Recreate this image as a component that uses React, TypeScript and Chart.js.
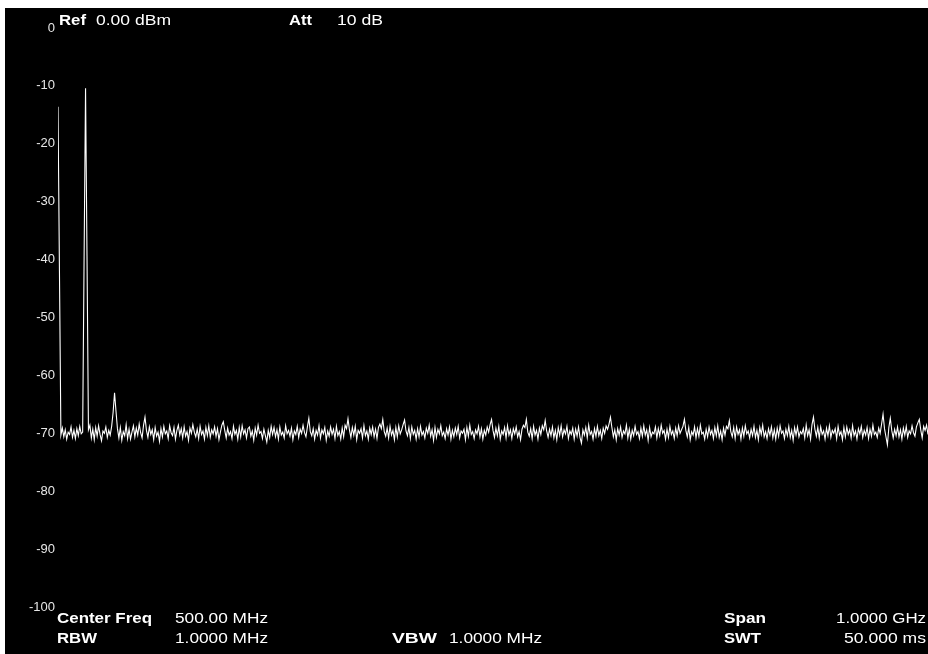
import React, { useEffect, useRef } from "react";
import { Chart, registerables } from "chart.js";

Chart.register(...registerables);

// Sweep settings
const START_MHZ = 0;
const STOP_MHZ = 1000;
const REF_LEVEL = 0;
const BOTTOM_LEVEL = -100;
const DB_PER_DIV = 10;

// Trace levels (dBm), 601 sweep points from 0 to 1000 MHz
const traceLevels: number[] = [
  -13.6, -42.0, -70.3, -69.1, -70.6, -69.4, -71.0, -69.8, -70.2, -68.9, -70.7, -69.5, -70.9, -69.2, -70.4, -68.8, -70.1, -69.8, -39.5, -10.4,
  -39.3, -69.4, -68.6, -70.8, -69.3, -71.1, -69.0, -70.5, -68.7, -70.2, -71.3, -69.6, -70.0, -68.9, -70.7, -69.5, -70.3, -68.8, -66.4, -63.0,
  -66.2, -69.2, -70.8, -69.0, -71.2, -69.7, -70.4, -68.5, -70.9, -69.3, -71.0, -69.8, -68.7, -70.6, -69.1, -70.3, -68.4, -69.9, -70.8, -68.6,
  -67.2, -69.5, -70.7, -68.9, -70.2, -69.4, -71.1, -69.0, -70.5, -69.8, -71.4, -69.2, -70.6, -68.8, -70.1, -69.6, -70.9, -68.7, -69.9, -70.4,
  -69.0, -71.0, -69.5, -68.6, -70.3, -69.2, -70.8, -68.9, -70.5, -69.7, -71.2, -69.1, -70.0, -68.5, -69.8, -70.6, -69.3, -70.9, -68.8, -70.2,
  -69.6, -71.0, -69.0, -70.4, -68.7, -70.7, -69.4, -70.1, -68.9, -70.5, -69.2, -71.1, -69.8, -68.6, -68.0, -69.5, -70.8, -69.1, -70.3, -69.7,
  -70.9, -68.8, -70.2, -69.5, -71.0, -69.0, -70.6, -68.7, -70.1, -69.4, -70.8, -69.2, -68.9, -70.5, -69.6, -71.2, -69.1, -70.3, -68.6, -70.0,
  -69.7, -70.9, -69.3, -70.4, -71.5, -69.5, -70.7, -68.8, -70.2, -69.0, -70.6, -69.4, -71.0, -68.9, -70.3, -69.8, -70.8, -68.7, -70.1, -69.5,
  -70.5, -69.1, -71.1, -69.6, -70.2, -68.8, -70.7, -69.3, -70.0, -68.6, -69.9, -70.6, -68.9, -67.4, -69.7, -70.4, -69.2, -71.0, -69.5, -70.3,
  -68.7, -70.8, -69.4, -70.1, -69.0, -71.2, -69.6, -70.5, -68.9, -70.2, -69.3, -70.9, -68.8, -70.4, -69.7, -71.0, -69.1, -70.6, -68.6, -69.2,
  -67.5, -69.4, -70.7, -69.0, -70.3, -68.8, -71.1, -69.5, -70.0, -69.2, -70.8, -68.7, -70.4, -69.6, -71.0, -69.1, -70.2, -68.9, -70.6, -69.3,
  -70.9, -69.0, -68.4, -69.2, -67.6, -69.7, -70.5, -69.1, -70.8, -68.8, -70.3, -69.5, -71.1, -69.0, -70.6, -68.7, -70.1, -69.4, -68.5, -67.7,
  -69.6, -70.4, -69.0, -70.9, -68.9, -70.2, -69.5, -71.0, -69.2, -70.6, -68.8, -70.3, -69.7, -70.8, -69.1, -70.0, -68.6, -70.5, -69.4, -71.2,
  -69.0, -70.7, -69.3, -70.1, -68.7, -70.4, -69.8, -70.9, -69.2, -70.3, -68.9, -71.0, -69.5, -70.6, -69.1, -70.2, -68.8, -70.8, -69.6, -70.0,
  -69.3, -71.1, -69.0, -70.5, -68.6, -70.2, -69.7, -70.9, -69.4, -70.1, -68.8, -70.6, -69.2, -71.0, -69.5, -70.3, -68.9, -69.8, -68.5, -67.6,
  -69.5, -70.7, -69.1, -70.4, -68.8, -71.0, -69.6, -70.2, -69.0, -70.8, -68.7, -70.3, -69.4, -70.9, -69.2, -70.1, -68.9, -70.6, -69.7, -71.1,
  -69.3, -68.6, -69.0, -67.6, -69.8, -70.5, -69.2, -70.9, -68.8, -70.3, -69.5, -71.0, -69.1, -70.2, -68.7, -69.4, -67.8, -69.6, -70.7, -69.3,
  -70.4, -68.9, -70.8, -69.5, -71.1, -69.0, -70.3, -68.7, -70.6, -69.4, -70.1, -68.8, -70.9, -69.6, -70.2, -69.1, -71.0, -69.3, -70.5, -68.9,
  -70.7, -71.7, -69.4, -70.3, -69.0, -70.8, -68.6, -70.2, -69.7, -71.0, -69.2, -70.5, -68.8, -70.4, -69.5, -70.9, -69.1, -70.0, -68.7, -69.3,
  -68.4, -67.2, -69.0, -70.6, -69.4, -71.1, -69.2, -70.3, -68.9, -70.7, -69.6, -70.1, -68.6, -70.8, -69.3, -71.0, -69.5, -70.4, -68.8, -70.2,
  -69.7, -70.9, -69.1, -70.5, -68.7, -70.3, -69.4, -71.2, -69.0, -70.6, -69.8, -70.1, -68.9, -70.8, -69.2, -70.4, -68.6, -70.0, -69.5, -71.0,
  -69.3, -70.7, -68.8, -70.2, -69.6, -70.9, -69.1, -70.4, -68.7, -70.0, -69.4, -68.8, -67.6, -69.5, -70.6, -69.0, -71.1, -69.7, -70.3, -68.9,
  -70.8, -69.2, -70.5, -68.6, -70.1, -69.8, -71.0, -69.3, -70.6, -68.9, -70.2, -69.5, -70.9, -69.0, -70.4, -68.7, -70.7, -69.6, -71.1, -69.1,
  -70.3, -68.8, -69.2, -67.8, -69.7, -70.6, -69.0, -70.9, -68.9, -70.2, -69.4, -71.0, -69.1, -70.5, -68.7, -70.1, -69.6, -70.8, -69.3, -70.4,
  -68.8, -70.7, -69.5, -71.1, -69.0, -70.2, -68.6, -70.6, -69.7, -70.9, -69.2, -70.3, -68.9, -70.8, -69.4, -71.0, -69.1, -70.5, -68.7, -70.0,
  -69.6, -70.9, -69.3, -70.4, -68.8, -70.7, -69.5, -71.2, -69.0, -70.3, -68.9, -70.6, -69.7, -70.1, -69.2, -70.8, -68.6, -70.4, -69.4, -71.0,
  -68.5, -67.2, -69.3, -70.5, -69.0, -70.8, -68.9, -70.2, -69.6, -71.0, -69.1, -70.4, -68.7, -70.7, -69.5, -70.0, -69.2, -70.9, -68.8, -70.3,
  -69.7, -71.1, -69.0, -70.6, -68.9, -70.2, -69.4, -70.8, -68.7, -70.4, -69.6, -71.0, -69.2, -70.1, -68.8, -70.7, -69.5, -70.3, -69.0, -70.9,
  -69.3, -70.5, -68.6, -70.2, -69.8, -70.7, -69.1, -70.0, -68.4, -66.7, -69.2, -70.6, -72.0, -69.0, -67.4, -69.5, -70.8, -69.3, -70.4, -68.9,
  -70.6, -69.4, -71.0, -69.1, -70.3, -68.8, -70.7, -69.6, -70.1, -68.7, -69.9, -70.5, -68.9, -68.2, -67.6, -69.4, -70.8, -68.8, -69.5, -68.6,
  -70.2,
];

// Annotation texts
const headerTexts = ["Ref", "0.00 dBm", "Att", "10 dB"];
const footerRow1 = ["Center Freq", "500.00 MHz", "Span", "1.0000 GHz"];
const footerRow2 = ["RBW", "1.0000 MHz", "VBW", "1.0000 MHz", "SWT", "50.000 ms"];

// Layout for annotation texts (canvas is offset by 5,8 in the page)
const OFF_X = 5;
const OFF_Y = 8;
type TextSpot = { text: string; x: number; w: number; base: number; bold: boolean };
const textSpots: TextSpot[] = [
  { text: headerTexts[0], x: 59, w: 27, base: 25, bold: true },
  { text: headerTexts[1], x: 96, w: 75, base: 25, bold: false },
  { text: headerTexts[2], x: 289, w: 23, base: 25, bold: true },
  { text: headerTexts[3], x: 337, w: 46, base: 25, bold: false },
  { text: footerRow1[0], x: 57, w: 95, base: 623, bold: true },
  { text: footerRow1[1], x: 175, w: 93, base: 623, bold: false },
  { text: footerRow1[2], x: 724, w: 42, base: 623, bold: true },
  { text: footerRow1[3], x: 836, w: 90, base: 623, bold: false },
  { text: footerRow2[0], x: 57, w: 40, base: 643, bold: true },
  { text: footerRow2[1], x: 175, w: 93, base: 643, bold: false },
  { text: footerRow2[2], x: 392, w: 45, base: 643, bold: true },
  { text: footerRow2[3], x: 449, w: 93, base: 643, bold: false },
  { text: footerRow2[4], x: 724, w: 37, base: 643, bold: true },
  { text: footerRow2[5], x: 844, w: 82, base: 643, bold: false },
];

const annotationPlugin = {
  id: "saAnnotations",
  afterDraw(chart: any) {
    const ctx = chart.ctx as CanvasRenderingContext2D;
    ctx.save();
    ctx.fillStyle = "#ffffff";
    ctx.textBaseline = "alphabetic";
    ctx.textAlign = "left";
    for (const t of textSpots) {
      ctx.font = `${t.bold ? "bold " : ""}14px "Liberation Sans", Arial, sans-serif`;
      const m = ctx.measureText(t.text).width;
      ctx.save();
      ctx.translate(t.x - OFF_X, t.base - OFF_Y);
      ctx.scale(t.w / m, 1);
      ctx.fillText(t.text, 0, 0);
      ctx.restore();
    }
    ctx.restore();
  },
};

export default function App() {
  const canvasRef = useRef<HTMLCanvasElement | null>(null);

  useEffect(() => {
    const canvas = canvasRef.current;
    if (!canvas) return;
    const n = traceLevels.length;
    const points = traceLevels.map((v, i) => ({
      x: START_MHZ + (i * (STOP_MHZ - START_MHZ)) / (n - 1),
      y: v,
    }));
    const chart = new Chart(canvas, {
      type: "line",
      data: {
        datasets: [
          {
            data: points,
            borderColor: "#ffffff",
            borderWidth: 1.1,
            pointRadius: 0,
            tension: 0,
            fill: false,
          },
        ],
      },
      options: {
        animation: false,
        responsive: false,
        devicePixelRatio: 1,
        layout: { padding: { top: 20, bottom: 47, left: 0, right: 0 } },
        plugins: { legend: { display: false }, tooltip: { enabled: false } },
        scales: {
          x: {
            type: "linear",
            min: START_MHZ,
            max: STOP_MHZ,
            display: false,
          },
          y: {
            type: "linear",
            min: BOTTOM_LEVEL,
            max: REF_LEVEL,
            grid: { display: false, drawTicks: false },
            border: { display: false },
            ticks: {
              stepSize: DB_PER_DIV,
              color: "#e6e6e6",
              padding: 3,
              font: { family: '"Liberation Sans", Arial, sans-serif', size: 13 },
            },
            afterFit(scale: any) {
              scale.width = 53;
            },
          },
        },
      },
      plugins: [annotationPlugin],
    } as any);
    return () => chart.destroy();
  }, []);

  return (
    <div
      style={{
        position: "absolute",
        left: OFF_X,
        top: OFF_Y,
        width: 923,
        height: 646,
        background: "#000000",
      }}
    >
      <canvas ref={canvasRef} width={923} height={646} style={{ display: "block", width: 923, height: 646 }} />
    </div>
  );
}
